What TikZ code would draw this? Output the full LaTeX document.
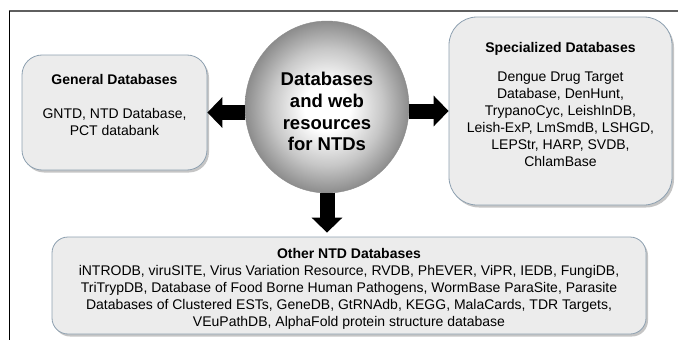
\documentclass[tikz,border=0pt]{standalone}
\usepackage{fontspec}
\setmainfont{Liberation Sans}
\usetikzlibrary{positioning,shapes.geometric,shadows,arrows.meta}
\definecolor{boxfill}{HTML}{ECECEC}
\definecolor{boxline}{HTML}{8DA0B0}
\definecolor{framegray}{HTML}{5F5F5F}
\pgfdeclareradialshading{hubshade}{\pgfpoint{0bp}{0bp}}{color(0bp)=(white); color(7bp)=(white);
	color(17bp)=(black!22); color(25bp)=(black!45); color(50bp)=(black!45)}

\begin{document}
\begin{tikzpicture}[x=1pt,y=-1pt,
	dbbox/.style={draw=boxline, line width=0.8pt, fill=boxfill,
		drop shadow={shadow xshift=2pt, shadow yshift=-2.5pt, fill=black!45, opacity=0.5}},
	dbtext/.style={align=center, inner sep=0pt, anchor=north,
		font=\fontsize{14}{17}\selectfont},
	hubstyle/.style={ellipse, draw=black!45, shading=hubshade,
		minimum width=164pt, minimum height=172pt,
		inner sep=0pt, align=center, font=\fontsize{18.5}{21.7}\selectfont\bfseries},
	fatarrow/.style={line width=15pt, -{Triangle[width=30pt,length=15pt]}}]
	\useasboundingbox (0,0) rectangle (678,340);
	% frame
	\draw[framegray, line width=2pt] (8.5,11) -- (678,11);
	\draw[black, line width=0.8pt] (9.5,11) -- (9.5,340);
	% boxes
	\node[dbbox, rounded corners=20pt, minimum width=185pt, minimum height=115pt] (gen) at (114.5,112.5) {};
	\node[dbbox, rounded corners=28pt, minimum width=223pt, minimum height=188pt] (spec) at (560.5,111) {};
	\node[dbbox, rounded corners=16pt, minimum width=594pt, minimum height=97pt] (other) at (349,285.5) {};
	\node[dbtext, below=20pt of gen.north] (gentext) {\textbf{General Databases}\\[17pt]
		GNTD, NTD Database,\\ PCT databank};
	\node[dbtext, below=26pt of spec.north] (spectext) {\textbf{Specialized Databases}\\[12pt]
		Dengue Drug Target\\ Database, DenHunt,\\ TrypanoCyc, LeishInDB,\\
		Leish-ExP, LmSmdB, LSHGD,\\ LEPStr, HARP, SVDB,\\ ChlamBase};
	\node[dbtext, below=12pt of other.north] (othertext) {\textbf{Other NTD Databases}\\
		iNTRODB, viruSITE, Virus Variation Resource, RVDB, PhEVER, ViPR, IEDB, FungiDB,\\
		TriTrypDB, Database of Food Borne Human Pathogens, WormBase ParaSite, Parasite\\
		Databases of Clustered ESTs, GeneDB, GtRNAdb, KEGG, MalaCards, TDR Targets,\\
		VEuPathDB, AlphaFold protein structure database};
	% centre
	\node[hubstyle] (hub) at (327,107) {\rule{0pt}{23pt}Databases\\ and web\\ resources\\ for NTDs};
	% arrows
	\draw[fatarrow, shorten <=-0.5pt] (gen.east -| hub.west) -- (gen.east);
	\draw[fatarrow, shorten <=-0.5pt] (hub.east |- spec.west) -- (spec.west);
	\draw[fatarrow, shorten <=-0.5pt, shorten >=4pt] (hub.south) -- (hub.south |- other.north);
\end{tikzpicture}
\end{document}
